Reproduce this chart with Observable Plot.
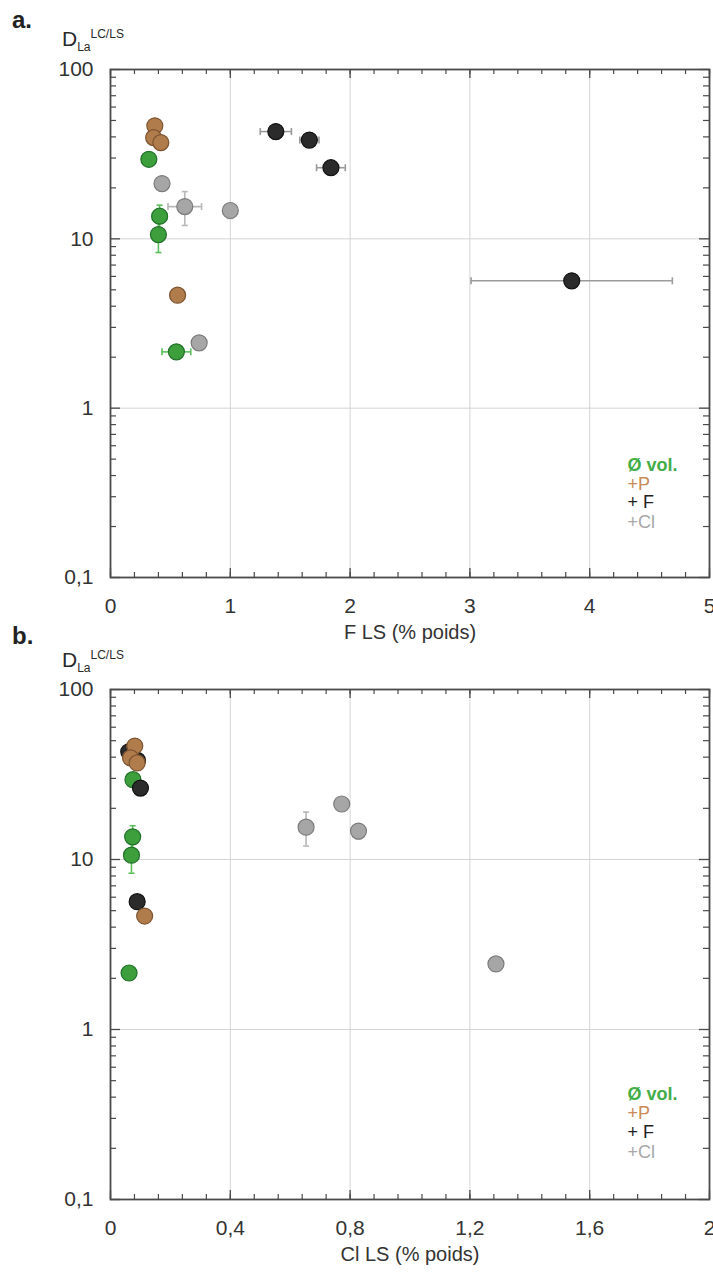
<!DOCTYPE html>
<html>
<head>
<meta charset="utf-8">
<script src="https://cdn.jsdelivr.net/npm/d3@7"></script>
<script src="https://cdn.jsdelivr.net/npm/@observablehq/plot@0.6"></script>
<style>
  html, body { margin: 0; padding: 0; background: #fff; }
  #wrap { position: relative; width: 713px; height: 1273px; font-family: "Liberation Sans", Arial, sans-serif; color: #222; }
  .pl { position: absolute; left: 0; }
  .lab { position: absolute; font-weight: bold; font-size: 24px; }
  .dl { position: absolute; font-size: 21px; line-height: 1; color: #2a2a2a; }
  .dl sub { font-size: 12px; vertical-align: -5px; }
  .dl sup { font-size: 12px; vertical-align: 8px; }
</style>
</head>
<body>
<div id="wrap">
  <div class="lab" style="left:12px;top:6px;">a.</div>
  <div class="dl" style="left:62px;top:28px;">D<sub>La</sub><sup>LC/LS</sup></div>
  <div class="lab" style="left:12px;top:622px;">b.</div>
  <div class="dl" style="left:62px;top:649px;">D<sub>La</sub><sup>LC/LS</sup></div>
</div>
<script>
// ---------- data ----------
const groupKeys = ["vol", "P", "F", "Cl"];
const legendLabels = ["Ø vol.", "+P", "+ F", "+Cl"];

// Ø vol. (green)
const volD = [29.5, 13.6, 10.6, 2.15];
const volF = [0.32, 0.41, 0.40, 0.55];
const volCl = [0.075, 0.074, 0.070, 0.062];
const volFerr = [0.03, 0.06, 0.03, 0.12];
const volClerr = [0, 0, 0, 0];
const volDerr = [1.5, 2.2, 2.3, 0.15];

// +P (brown)
const pD = [46.5, 39.6, 37.0, 4.65];
const pF = [0.37, 0.36, 0.42, 0.56];
const pCl = [0.081, 0.067, 0.089, 0.114];
const pFerr = [0.03, 0.03, 0.05, 0.03];
const pClerr = [0, 0, 0, 0];
const pDerr = [3, 2, 2, 0.3];

// + F (black)
const fD = [43, 38.3, 26.3, 5.65];
const fF = [1.38, 1.66, 1.84, 3.85];
const fCl = [0.061, 0.090, 0.100, 0.089];
const fFerr = [0.13, 0.08, 0.12, 0.84];
const fClerr = [0, 0, 0, 0];
const fDerr = [4, 1.5, 1.5, 0.3];

// +Cl (grey)
const clD = [21.2, 15.5, 14.7, 2.43];
const clF = [0.43, 0.62, 1.00, 0.74];
const clCl = [0.772, 0.653, 0.828, 1.287];
const clFerr = [0.03, 0.14, 0.03, 0.03];
const clClerr = [0, 0, 0, 0];
const clDerr = [1.5, 3.5, 1.5, 0.2];

const xTicksA = [0, 1, 2, 3, 4, 5];
const xTicksB = [0, 0.4, 0.8, 1.2, 1.6, 2];
const yTicks = [0.1, 1, 10, 100];

// ---------- styles ----------
const fillC = {vol: "#3c9f3c", P: "#b07c4c", F: "#2b2b2b", Cl: "#a6a6a6"};
const strokeC = {vol: "#22702a", P: "#7d5430", F: "#111111", Cl: "#7c7c7c"};
const errC = {vol: "#5cbf5c", P: "#d9a878", F: "#9a9a9a", Cl: "#b8b8b8"};
const legendC = {vol: "#43ad48", P: "#c98a58", F: "#222222", Cl: "#a8a8a8"};

const W = 713, ML = 110, MR = 4;
const comma = d => String(d).replace(".", ",");

function rowsFor(which) {
  const src = {
    vol: [volD, volF, volCl, volFerr, volClerr, volDerr],
    P: [pD, pF, pCl, pFerr, pClerr, pDerr],
    F: [fD, fF, fCl, fFerr, fClerr, fDerr],
    Cl: [clD, clF, clCl, clFerr, clClerr, clDerr]
  };
  const order = ["Cl", "vol", "F", "P"];
  const rows = [];
  for (const g of order) {
    const [D, F, C, Fe, Ce, De] = src[g];
    D.forEach((d, i) => rows.push({
      g, D: d,
      x: which === "F" ? F[i] : C[i],
      xerr: which === "F" ? Fe[i] : Ce[i],
      Derr: De[i]
    }));
  }
  return rows;
}

const hCap = {draw(ctx, size) { const r = Math.sqrt(size / Math.PI); ctx.moveTo(-r, 0); ctx.lineTo(r, 0); }};
const vCap = {draw(ctx, size) { const r = Math.sqrt(size / Math.PI); ctx.moveTo(0, -r); ctx.lineTo(0, r); }};

function panel(o) {
  const fh = o.height - o.mt - o.mb;
  const fw = W - ML - MR;
  const rows = rowsFor(o.which);
  const xe = rows.filter(d => d.xerr > 0);
  const ye = rows.filter(d => d.Derr > 0);
  const yMinor = [];
  for (const dec of [0.1, 1, 10]) for (let k = 2; k <= 9; k++) yMinor.push(k * dec);
  const xMinor = d3.range(0, o.xMax + 1e-9, o.xMinorStep);
  const tickStroke = "#4a4a4a";
  const marks = [
    Plot.gridX(o.xTicks.slice(1, -1), {stroke: "#d4d4d4", strokeOpacity: 1}),
    Plot.gridY([1, 10], {stroke: "#d4d4d4", strokeOpacity: 1}),
    Plot.tickX(xMinor, {x: d => d, insetTop: fh - 5, stroke: tickStroke, strokeWidth: 1.2}),
    Plot.tickX(xMinor, {x: d => d, insetBottom: fh - 5, stroke: tickStroke, strokeWidth: 1.2}),
    Plot.tickX(o.xTicks, {x: d => d, insetTop: fh - 9, stroke: tickStroke, strokeWidth: 1.3}),
    Plot.tickX(o.xTicks, {x: d => d, insetBottom: fh - 9, stroke: tickStroke, strokeWidth: 1.3}),
    Plot.tickY(yMinor, {y: d => d, insetRight: fw - 6, stroke: tickStroke, strokeWidth: 1.2}),
    Plot.tickY(yMinor, {y: d => d, insetLeft: fw - 6, stroke: tickStroke, strokeWidth: 1.2}),
    Plot.tickY(yTicks, {y: d => d, insetRight: fw - 10, stroke: tickStroke, strokeWidth: 1.3}),
    Plot.tickY(yTicks, {y: d => d, insetLeft: fw - 10, stroke: tickStroke, strokeWidth: 1.3}),
    Plot.frame({stroke: "#4a4a4a", strokeWidth: 1.8}),
    Plot.axisX(o.xTicks, {tickSize: 0, tickPadding: 21, tickFormat: comma, fontSize: 21, fill: "#333", label: null}),
    Plot.axisY(yTicks, {tickSize: 0, tickPadding: 17, tickFormat: comma, fontSize: 21, fill: "#333", label: null}),
    Plot.text([o.xTitle], {text: d => d, frameAnchor: "bottom", dy: 61, fontSize: 20, fill: "#333"}),
    Plot.ruleY(xe, {y: "D", x1: d => d.x - d.xerr, x2: d => d.x + d.xerr, stroke: d => errC[d.g], strokeWidth: 1.6}),
    Plot.dot(xe, {x: d => d.x - d.xerr, y: "D", symbol: vCap, r: 3.5, stroke: d => errC[d.g], strokeWidth: 1.6}),
    Plot.dot(xe, {x: d => d.x + d.xerr, y: "D", symbol: vCap, r: 3.5, stroke: d => errC[d.g], strokeWidth: 1.6}),
    Plot.ruleX(ye, {x: "x", y1: d => d.D - d.Derr, y2: d => d.D + d.Derr, stroke: d => errC[d.g], strokeWidth: 1.6}),
    Plot.dot(ye, {x: "x", y: d => d.D - d.Derr, symbol: hCap, r: 3, stroke: d => errC[d.g], strokeWidth: 1.6}),
    Plot.dot(ye, {x: "x", y: d => d.D + d.Derr, symbol: hCap, r: 3, stroke: d => errC[d.g], strokeWidth: 1.6}),
    Plot.dot(rows, {x: "x", y: "D", r: 8, fill: d => fillC[d.g], stroke: d => strokeC[d.g], strokeWidth: 1.2})
  ];
  groupKeys.forEach((g, i) => {
    marks.push(Plot.text([legendLabels[i]], {
      text: d => d, frameAnchor: "bottom-right", dx: -82, dy: o.legendDy[i],
      textAnchor: "start", fontSize: 18, fontWeight: g === "vol" ? "bold" : "normal", fill: legendC[g]
    }));
  });
  return Plot.plot({
    width: W, height: o.height,
    marginTop: o.mt, marginBottom: o.mb, marginLeft: ML, marginRight: MR,
    x: {type: "linear", domain: [0, o.xMax]},
    y: {type: "log", domain: [0.1, 100]},
    color: {type: "identity"},
    style: {fontFamily: "'Liberation Sans', Arial, sans-serif", background: "transparent", overflow: "visible"},
    marks
  });
}

const wrap = document.getElementById("wrap");
const a = panel({which: "F", height: 660, mt: 69, mb: 83, xMax: 5, xTicks: xTicksA, xMinorStep: 0.2,
  xTitle: "F LS (% poids)", legendDy: [-107, -88, -70, -50]});
a.classList.add("pl"); a.style.top = "0px";
const b = panel({which: "Cl", height: 653, mt: 69, mb: 74, xMax: 2, xTicks: xTicksB, xMinorStep: 0.08,
  xTitle: "Cl LS (% poids)", legendDy: [-100, -81, -62, -42]});
b.classList.add("pl"); b.style.top = "620px";
wrap.appendChild(a);
wrap.appendChild(b);
</script>
</body>
</html>
